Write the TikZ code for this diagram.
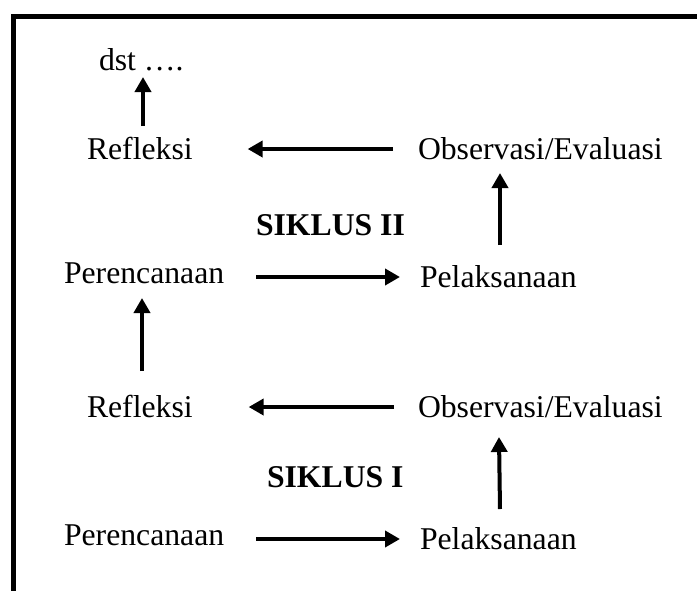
\documentclass[tikz,border=0pt]{standalone}
\usepackage{fontspec}
\setmainfont{Liberation Serif}
\usetikzlibrary{arrows.meta}
\begin{document}
\begin{tikzpicture}[x=1pt,y=-1pt,
  lbl/.style={inner sep=0pt,outer sep=0pt,anchor=base west,font=\fontsize{31.7}{38}\selectfont},
  ttl/.style={lbl,font=\fontsize{31.7}{38}\selectfont\bfseries},
  arr/.style={line width=4pt,-{Triangle[length=15pt,width=16pt]}},
  frame/.style={line width=5pt,line join=miter}]
\useasboundingbox (0,0) rectangle (697,590);
\clip (0,0) rectangle (697,590);
% frame
\draw[frame] (13,600) -- (13,16) -- (710,16);
% nodes
\node[lbl] (dst) at (99,70) {dst ….};
\node[lbl] (R2) at (87,159) {Refleksi};
\node[lbl] (O2) at (418,159) {Observasi/Evaluasi};
\node[ttl] (S2) at (256,235) {SIKLUS II};
\node[lbl] (P2) at (64,283) {Perencanaan};
\node[lbl] (L2) at (420,287) {Pelaksanaan};
\node[lbl] (R1) at (87,417) {Refleksi};
\node[lbl] (O1) at (418,417) {Observasi/Evaluasi};
\node[ttl] (S1) at (267,487) {SIKLUS I};
\node[lbl] (P1) at (64,545) {Perencanaan};
\node[lbl] (L1) at (420,549) {Pelaksanaan};
% connectors
\draw[arr] ([xshift=32pt,yshift=6pt]P1.base east) -- ([xshift=-20pt,yshift=10pt]L1.base west);
\draw[arr] ([xshift=80pt,yshift=40pt]L1.base west) -- ([xshift=81pt,yshift=-20pt]O1.base west);
\draw[arr] ([xshift=-24pt,yshift=10pt]O1.base west) -- ([xshift=56pt,yshift=10pt]R1.base east);
\draw[arr] ([xshift=55pt,yshift=46pt]R1.base west) -- ([xshift=78pt,yshift=-15pt]P2.base west);
\draw[arr] ([xshift=32pt,yshift=6pt]P2.base east) -- ([xshift=-20pt,yshift=10pt]L2.base west);
\draw[arr] ([xshift=80pt,yshift=42pt]L2.base west) -- ([xshift=82pt,yshift=-14pt]O2.base west);
\draw[arr] ([xshift=-25pt,yshift=10pt]O2.base west) -- ([xshift=55pt,yshift=10pt]R2.base east);
\draw[arr] ([xshift=56pt,yshift=33pt]R2.base west) -- ([xshift=44pt,yshift=-7pt]dst.base west);
\end{tikzpicture}
\end{document}
